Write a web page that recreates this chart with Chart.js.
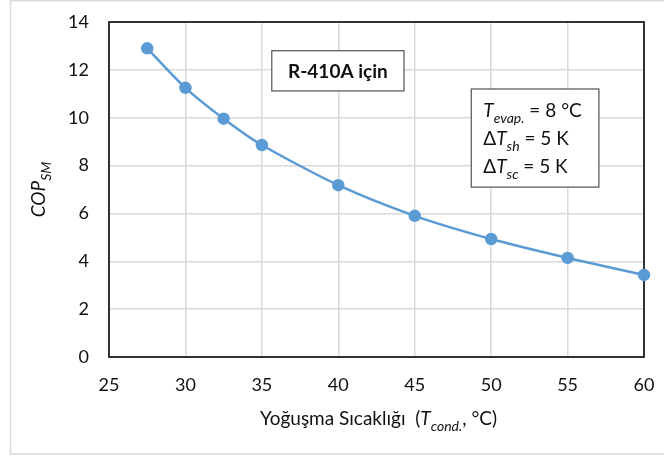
<!DOCTYPE html>
<html>
<head>
<meta charset="utf-8">
<script src="https://cdn.jsdelivr.net/npm/chart.js@4"></script>
<style>
  html, body { margin: 0; padding: 0; background: #fff; }
  #wrap { width: 664px; height: 458px; position: relative; }
</style>
</head>
<body>
<div id="wrap"><canvas id="copChart" width="664" height="458"></canvas></div>
<script>
// Condensing temperature (°C) and COP values
const condTemps = [27.5, 30, 32.5, 35, 40, 45, 50, 55, 60];
const copValues = [12.9, 11.25, 9.96, 8.86, 7.18, 5.9, 4.93, 4.14, 3.43];
const xTicks = [25, 30, 35, 40, 45, 50, 55, 60];
const yTicks = [0, 2, 4, 6, 8, 10, 12, 14];

const FONT = 'Lato, "Open Sans", sans-serif';
const blue = '#5b9bd5';
const gridGray = '#d9d9d9';
const textDark = '#111111';

// draw a run of text parts: [text, style] where style '' normal, 'i' italic, 's' italic subscript, 'b' bold
function richWidth(ctx, parts, size) {
    let w = 0;
    parts.forEach(([t, st]) => {
        ctx.font = fontFor(st, size);
        w += ctx.measureText(t).width;
    });
    return w;
}
function fontFor(st, size) {
    if (st === 's') return `italic ${Math.round(size * 0.72)}px ${FONT}`;
    if (st === 'i') return `italic ${size}px ${FONT}`;
    if (st === 'b') return `bold ${size}px ${FONT}`;
    return `${size}px ${FONT}`;
}
function drawRich(ctx, parts, x, y, size, align) {
    let cx = align === 'center' ? x - richWidth(ctx, parts, size) / 2 : x;
    ctx.textAlign = 'left';
    ctx.textBaseline = 'alphabetic';
    parts.forEach(([t, st]) => {
        ctx.font = fontFor(st, size);
        const dy = st === 's' ? size * 0.3 : 0;
        ctx.fillText(t, cx, y + dy);
        cx += ctx.measureText(t).width;
    });
}

const decorations = {
    id: 'decorations',
    beforeDraw(chart) {
        const ctx = chart.ctx;
        ctx.save();
        ctx.fillStyle = '#fff';
        ctx.fillRect(0, 0, chart.width, chart.height);
        ctx.strokeStyle = '#d9d9d9';
        ctx.lineWidth = 1.5;
        ctx.beginPath();
        ctx.moveTo(10.5, 0.75);
        ctx.lineTo(664, 0.75);
        ctx.moveTo(10.5, 0);
        ctx.lineTo(10.5, 454);
        ctx.lineTo(664, 454);
        ctx.stroke();
        ctx.restore();
    },
    beforeDatasetsDraw(chart) {
        const { ctx, chartArea: a } = chart;
        ctx.save();
        ctx.strokeStyle = '#1a1a1a';
        ctx.lineWidth = 1.75;
        ctx.strokeRect(a.left, a.top, a.right - a.left, a.bottom - a.top);
        ctx.restore();
    },
    afterDraw(chart) {
        const { ctx, chartArea: a, scales } = chart;
        const xs = scales.x, ys = scales.y;
        ctx.save();
        ctx.fillStyle = textDark;

        // axis titles
        drawRich(ctx, [['Yoğuşma Sıcaklığı  (', ''], ['T', 'i'], ['cond.', 's'], [', °C)', '']],
            (a.left + a.right) / 2 + 2, 425, 19, 'center');
        ctx.save();
        ctx.translate(45, (a.top + a.bottom) / 2);
        ctx.rotate(-Math.PI / 2);
        drawRich(ctx, [['COP', 'i'], ['SM', 's']], 0, 0, 19, 'center');
        ctx.restore();

        // annotation box: refrigerant
        let l = xs.getPixelForValue(35.65), r = xs.getPixelForValue(44.3);
        let t = ys.getPixelForValue(12.8), b = ys.getPixelForValue(11.12);
        ctx.fillStyle = '#fff';
        ctx.fillRect(l, t, r - l, b - t);
        ctx.strokeStyle = '#595959';
        ctx.lineWidth = 1.25;
        ctx.strokeRect(l, t, r - l, b - t);
        ctx.fillStyle = textDark;
        drawRich(ctx, [['R-410A için', 'b']], (l + r) / 2, (t + b) / 2 + 7, 19, 'center');

        // annotation box: conditions
        l = xs.getPixelForValue(48.7); r = xs.getPixelForValue(57.05);
        t = ys.getPixelForValue(11.2); b = ys.getPixelForValue(7.1);
        ctx.fillStyle = '#fff';
        ctx.fillRect(l, t, r - l, b - t);
        ctx.strokeStyle = '#595959';
        ctx.strokeRect(l, t, r - l, b - t);
        ctx.fillStyle = textDark;
        const tx = l + 12;
        drawRich(ctx, [['T', 'i'], ['evap.', 's'], [' = 8 °C', '']], tx, t + 28, 19, 'left');
        drawRich(ctx, [['Δ', ''], ['T', 'i'], ['sh', 's'], [' = 5 K', '']], tx, t + 56, 19, 'left');
        drawRich(ctx, [['Δ', ''], ['T', 'i'], ['sc', 's'], [' = 5 K', '']], tx, t + 84, 19, 'left');
        ctx.restore();
    }
};

new Chart(document.getElementById('copChart'), {
    type: 'line',
    data: {
        datasets: [{
            label: 'COP',
            data: condTemps.map((x, i) => ({ x, y: copValues[i] })),
            borderColor: blue,
            backgroundColor: blue,
            borderWidth: 2.5,
            pointRadius: 5,
            pointHoverRadius: 5,
            pointBackgroundColor: blue,
            pointBorderColor: blue,
            tension: 0.25,
            clip: false
        }]
    },
    options: {
        responsive: false,
        animation: false,
        events: [],
        layout: { padding: { left: 59, right: 20, top: 22, bottom: 61 } },
        plugins: { legend: { display: false }, tooltip: { enabled: false } },
        scales: {
            x: {
                type: 'linear',
                min: 25, max: 60,
                afterFit: s => { s.height = 40; s.paddingLeft = 0; s.paddingRight = 0; },
                afterBuildTicks: s => { s.ticks = xTicks.map(v => ({ value: v })); },
                ticks: { color: textDark, font: { family: FONT, size: 18 }, padding: 17 },
                grid: { color: gridGray, lineWidth: 1.5, drawTicks: false },
                border: { display: false }
            },
            y: {
                min: 0, max: 14,
                afterFit: s => { s.width = 50; s.paddingTop = 0; s.paddingBottom = 0; },
                afterBuildTicks: s => { s.ticks = yTicks.map(v => ({ value: v })); },
                ticks: { color: textDark, font: { family: FONT, size: 18 }, padding: 20 },
                grid: { color: gridGray, lineWidth: 1.5, drawTicks: false },
                border: { display: false }
            }
        }
    },
    plugins: [decorations]
});
</script>
</body>
</html>
